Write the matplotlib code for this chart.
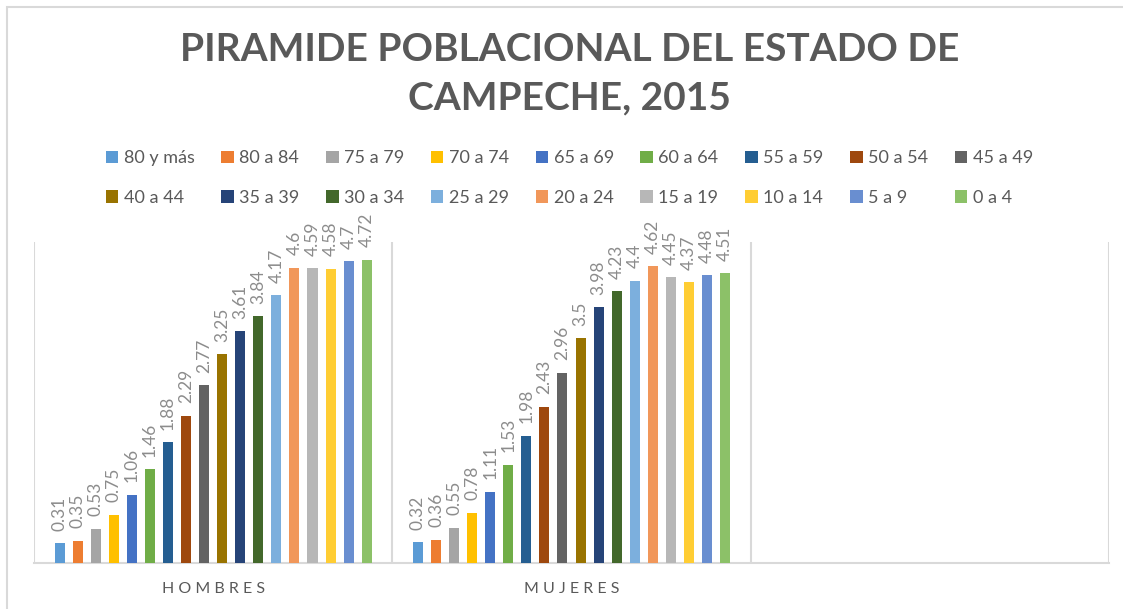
import matplotlib.pyplot as plt
from matplotlib.patches import Rectangle
import numpy as np

plt.rcParams['font.family'] = ['Lato', 'DejaVu Sans']

# data
grupos = ["80 y más", "80 a 84", "75 a 79", "70 a 74", "65 a 69", "60 a 64",
          "55 a 59", "50 a 54", "45 a 49", "40 a 44", "35 a 39", "30 a 34",
          "25 a 29", "20 a 24", "15 a 19", "10 a 14", "5 a 9", "0 a 4"]
categorias = ["HOMBRES", "MUJERES", ""]
hombres = [0.31, 0.35, 0.53, 0.75, 1.06, 1.46, 1.88, 2.29, 2.77,
           3.25, 3.61, 3.84, 4.17, 4.6, 4.59, 4.58, 4.7, 4.72]
mujeres = [0.32, 0.36, 0.55, 0.78, 1.11, 1.53, 1.98, 2.43, 2.96,
           3.5, 3.98, 4.23, 4.4, 4.62, 4.45, 4.37, 4.48, 4.51]

colores = ["#5B9BD5", "#ED7D31", "#A5A5A5", "#FFC000", "#4472C4", "#70AD47",
           "#255E91", "#9E480E", "#636363", "#997300", "#264478", "#43682B",
           "#7CAFDD", "#F1975A", "#B7B7B7", "#FFCD33", "#698ED0", "#8CC168"]

gris = "#595959"
linea = "#d9d9d9"

fig = plt.figure(figsize=(11.23, 6.09), dpi=100)
ax = fig.add_axes([34/1123, 1 - 563/609, (1109 - 34)/1123, (563 - 242)/609])

# chart border
fig.patches.append(Rectangle((7/1123, -0.1), 1.2, (609 - 7)/609 + 0.1,
                             transform=fig.transFigure, fill=False,
                             edgecolor=linea, lw=1.5))

n = len(grupos)
paso = 0.0504
ancho = 0.028
centros = np.arange(len(categorias)) + 0.5
handles = []
for i in range(n):
    vals = [hombres[i], mujeres[i]]
    x = centros[:2] + (i - (n - 1) / 2) * paso
    bars = ax.bar(x, vals, width=ancho, color=colores[i], label=grupos[i], zorder=3)
    handles.append(bars)
    for b, v in zip(bars, vals):
        ax.annotate(f"{v:g}", (b.get_x() + b.get_width() / 2, v),
                    xytext=(0, 9), textcoords="offset points",
                    rotation=90, ha="center", va="bottom",
                    fontsize=12.5, color="#8c8c8c")

ax.set_xlim(0, 3)
ax.set_ylim(0, 5)
for xv in range(4):
    ax.axvline(xv, color=linea, lw=1.5, zorder=1)
for s in ["top", "right", "left"]:
    ax.spines[s].set_visible(False)
ax.spines["bottom"].set_color(linea)
ax.spines["bottom"].set_linewidth(1.5)
ax.set_yticks([])
ax.set_xticks(centros)
ax.set_xticklabels([" ".join(c) for c in categorias], fontsize=11.5, color=gris)
ax.tick_params(axis="x", length=0, pad=14)

fig.text(0.507, 1 - 74/609, "PIRAMIDE POBLACIONAL DEL ESTADO DE\nCAMPECHE, 2015",
         ha="center", va="center", fontsize=28, fontweight="bold",
         color=gris, linespacing=1.45)

# legend fills by column, so interleave to get row order
orden = [k for j in range(9) for k in (j, j + 9)]
fig.legend([handles[k] for k in orden], [grupos[k] for k in orden],
           loc="center", bbox_to_anchor=(0.507, 1 - 178/609), ncol=9,
           frameon=False, fontsize=13, labelcolor=gris,
           handlelength=0.7, handleheight=0.7, handletextpad=0.3,
           columnspacing=1.47, labelspacing=1.3)

fig.savefig("out.png", dpi=100)
